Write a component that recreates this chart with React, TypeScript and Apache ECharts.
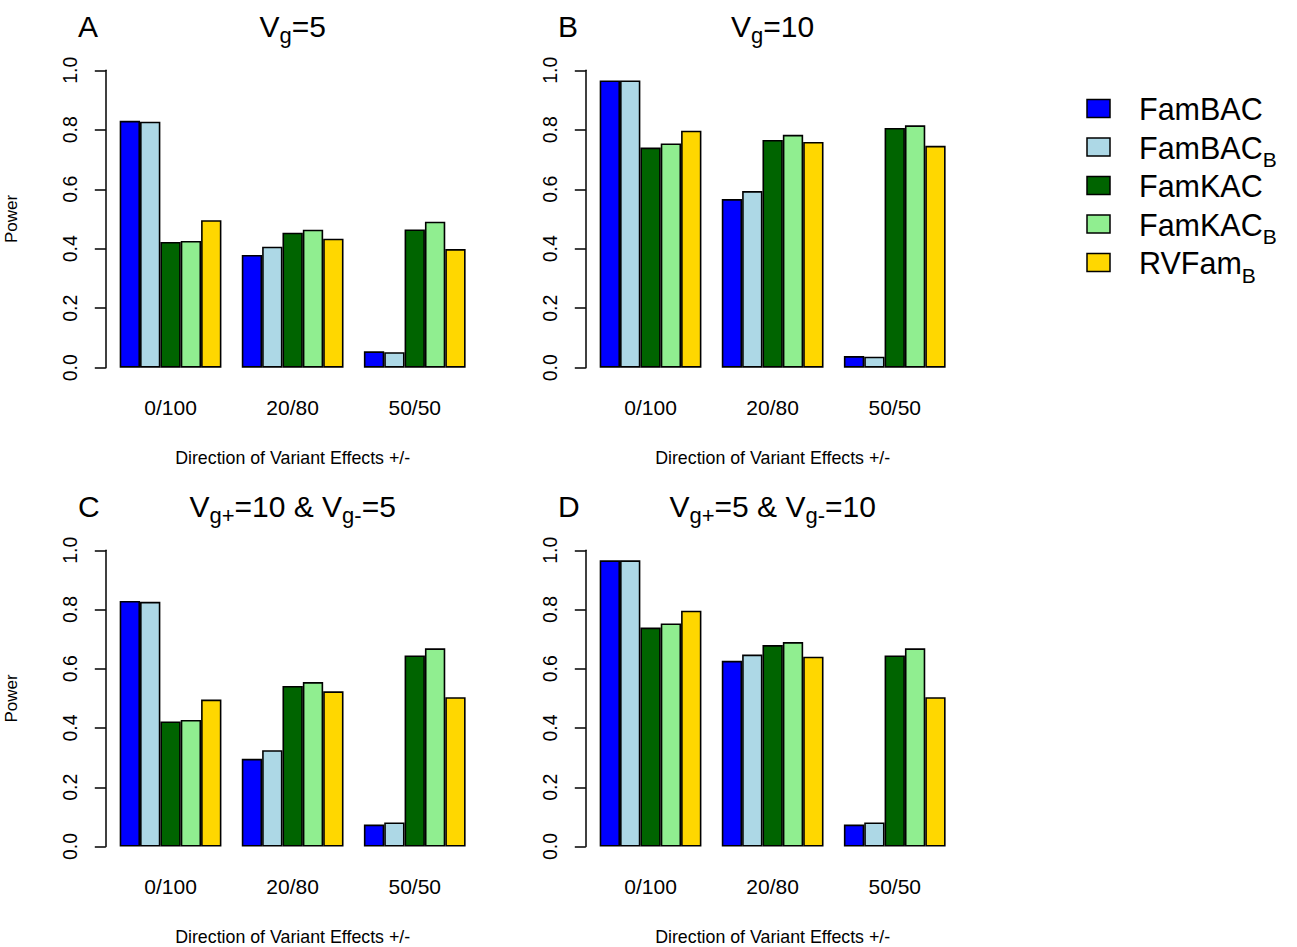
import React, { useEffect, useRef } from "react";
import * as echarts from "echarts";

const categories = ["0/100", "20/80", "50/50"];
const methodNames = ["FamBAC", "FamBAC_B", "FamKAC", "FamKAC_B", "RVFam_B"];
const legendMain = ["FamBAC", "FamBAC", "FamKAC", "FamKAC", "RVFam"];
const legendSub = ["", "B", "", "B", "B"];
const colors = ["#0000FF", "#ADD8E6", "#006400", "#90EE90", "#FFD700"];
const yTicks = [0, 0.2, 0.4, 0.6, 0.8, 1.0];

// rows: methods, columns: categories
const panelA = [
  [0.830, 0.379, 0.055],
  [0.827, 0.407, 0.052],
  [0.423, 0.454, 0.465],
  [0.426, 0.464, 0.491],
  [0.496, 0.434, 0.399],
];
const panelB = [
  [0.966, 0.567, 0.039],
  [0.966, 0.594, 0.037],
  [0.740, 0.766, 0.806],
  [0.754, 0.783, 0.815],
  [0.797, 0.759, 0.746],
];
const panelC = [
  [0.829, 0.296, 0.074],
  [0.826, 0.325, 0.081],
  [0.422, 0.542, 0.645],
  [0.427, 0.555, 0.669],
  [0.496, 0.524, 0.504],
];
const panelD = [
  [0.966, 0.627, 0.074],
  [0.966, 0.648, 0.081],
  [0.739, 0.680, 0.645],
  [0.753, 0.690, 0.669],
  [0.796, 0.641, 0.504],
];
const panelLetters = ["A", "B", "C", "D"];
// title pieces: [text, isSub]
const panelTitles: [string, boolean][][] = [
  [["V", false], ["g", true], ["=5", false]],
  [["V", false], ["g", true], ["=10", false]],
  [["V", false], ["g+", true], ["=10 & V", false], ["g-", true], ["=5", false]],
  [["V", false], ["g+", true], ["=5 & V", false], ["g-", true], ["=10", false]],
];
const showYTitle = [true, false, true, false];
const xTitle = "Direction of Variant Effects +/-";
const yTitle = "Power";

const FONT = "'Liberation Sans', Arial, Helvetica, sans-serif";

export default function App() {
  const ref = useRef<HTMLDivElement>(null);
  useEffect(() => {
    if (!ref.current) return;
    const chart = echarts.init(ref.current, undefined, { renderer: "svg" });
    const panels = [panelA, panelB, panelC, panelD];
    const offsets = [
      [0, 0],
      [480, 0],
      [0, 480],
      [480, 480],
    ];
    const gLeft = 109.5;
    const gTop = 70.3;
    const gW = 366.3;
    const gH = 297.4;

    const grids: any[] = [];
    const xAxes: any[] = [];
    const yAxes: any[] = [];
    const series: any[] = [];
    const graphics: any[] = [];

    panels.forEach((pd, p) => {
      const [ox, oy] = offsets[p];
      grids.push({ left: gLeft + ox, top: gTop + oy, width: gW, height: gH, containLabel: false });
      xAxes.push({
        type: "category",
        gridIndex: p,
        data: categories,
        axisLine: { show: false },
        axisTick: { show: false },
        axisLabel: { fontSize: 21, color: "#000", margin: 29, fontFamily: FONT },
        name: xTitle,
        nameLocation: "middle",
        nameGap: 81.5,
        nameTextStyle: { fontSize: 17.8, color: "#000", fontFamily: FONT },
      });
      yAxes.push({
        type: "value",
        gridIndex: p,
        min: 0,
        max: 1,
        interval: 0.2,
        offset: 3.7,
        splitLine: { show: false },
        axisLine: { show: true, lineStyle: { color: "#000", width: 1.5 } },
        axisTick: { show: true, length: 11, lineStyle: { color: "#000", width: 1.5 } },
        axisLabel: {
          rotate: 90,
          fontSize: 19.5,
          color: "#000",
          margin: 26,
          fontFamily: FONT,
          formatter: (v: number) => {
            const t = yTicks.find((k) => Math.abs(k - v) < 1e-9);
            return (t !== undefined ? t : v).toFixed(1);
          },
        },
        name: showYTitle[p] ? yTitle : "",
        nameLocation: "middle",
        nameRotate: 90,
        nameGap: 86,
        nameTextStyle: { fontSize: 17, color: "#000", fontFamily: FONT },
      });
      pd.forEach((vals, m) => {
        series.push({
          type: "bar",
          name: methodNames[m],
          xAxisIndex: p,
          yAxisIndex: p,
          data: vals,
          barGap: "0%",
          barCategoryGap: "16.667%",
          itemStyle: { color: colors[m], borderColor: "#000", borderWidth: 1.6 },
          emphasis: { disabled: true },
        });
      });

      // panel letter
      graphics.push({
        type: "text",
        x: 78 + ox,
        y: 26.6 + oy,
        style: {
          text: panelLetters[p],
          fontSize: 30,
          fontFamily: FONT,
          fill: "#000",
          align: "left",
          verticalAlign: "middle",
        },
      });
      // panel title with subscripts
      const richText = panelTitles[p]
        .map(([t, sub]) => `{${sub ? "s" : "m"}|${t}}`)
        .join("");
      graphics.push({
        type: "text",
        x: gLeft + gW / 2 + ox,
        y: 26.6 + oy,
        style: {
          text: richText,
          align: "center",
          verticalAlign: "middle",
          fill: "#000",
          rich: {
            m: { fontSize: 30, lineHeight: 30, fontFamily: FONT, fill: "#000", verticalAlign: "middle" },
            s: { fontSize: 22, lineHeight: 30, fontFamily: FONT, fill: "#000", verticalAlign: "middle", padding: [18, 0, 0, 0] },
          },
        },
      });
    });

    // legend
    const legTop = 108.5;
    const legStep = 38.5;
    methodNames.forEach((_, i) => {
      const cy = legTop + i * legStep;
      graphics.push({
        type: "rect",
        shape: { x: 1087, y: cy - 9, width: 23, height: 18 },
        style: { fill: colors[i], stroke: "#000", lineWidth: 1.5 },
      });
      const txt = `{m|${legendMain[i]}}` + (legendSub[i] ? `{s|${legendSub[i]}}` : "");
      graphics.push({
        type: "text",
        x: 1139,
        y: cy + 0.8,
        style: {
          text: txt,
          align: "left",
          verticalAlign: "middle",
          fill: "#000",
          rich: {
            m: { fontSize: 30.5, lineHeight: 30, fontFamily: FONT, fill: "#000", verticalAlign: "middle" },
            s: { fontSize: 21, lineHeight: 30, fontFamily: FONT, fill: "#000", verticalAlign: "middle", padding: [24, 0, 0, 0] },
          },
        },
      });
    });

    chart.setOption({
      animation: false,
      backgroundColor: "#fff",
      textStyle: { fontFamily: FONT },
      grid: grids,
      xAxis: xAxes,
      yAxis: yAxes,
      series,
      graphic: graphics,
    });
    return () => chart.dispose();
  }, []);
  return (
    <div
      ref={ref}
      style={{ position: "fixed", left: 0, top: 0, width: 1297, height: 947, background: "#fff" }}
    />
  );
}
